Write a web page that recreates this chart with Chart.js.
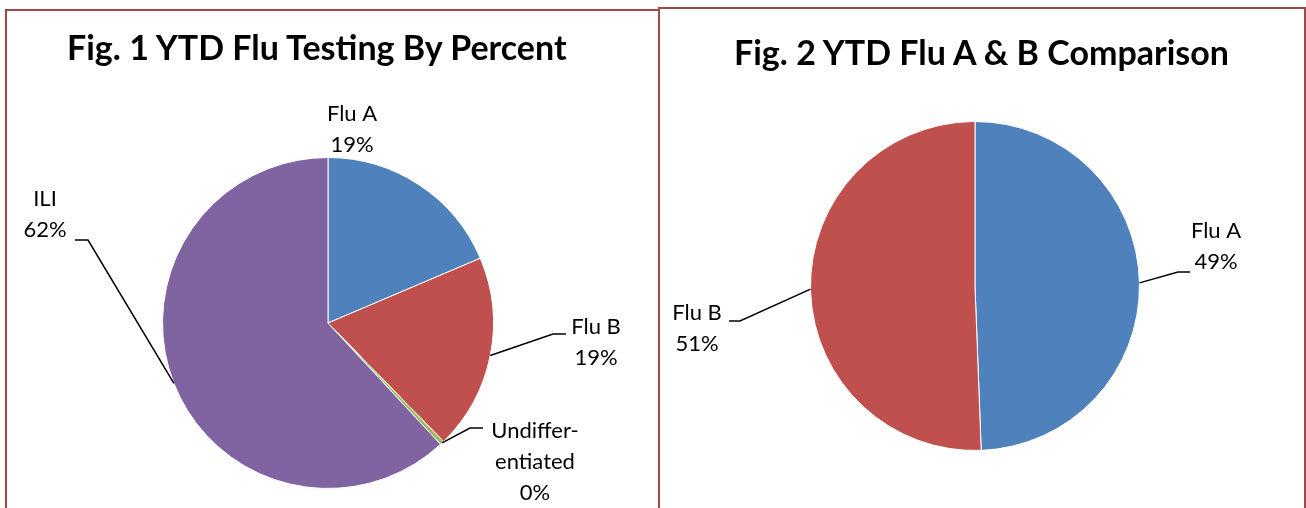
<!DOCTYPE html>
<html>
<head>
<meta charset="utf-8">
<script src="https://cdn.jsdelivr.net/npm/chart.js@4"></script>
<style>
  html, body { margin: 0; padding: 0; background: #fff; }
  body { width: 1306px; height: 508px; position: relative; overflow: hidden; font-family: Lato, sans-serif; }
  .panel { position: absolute; box-sizing: border-box; border: 2px solid #a04846; background: #fff; overflow: hidden; }
  #p1 { left: 5px; top: 9px; width: 655px; height: 520px; }
  #p2 { left: 658px; top: 7px; width: 648px; height: 520px; }
  .panel canvas { position: absolute; left: -2px; top: -2px; }
  .title { position: absolute; font: bold 34px Lato, sans-serif; color: #000; white-space: nowrap; }
  #t1 { left: 60px; top: 15px; }
  #t2 { left: 74px; top: 22px; }
</style>
</head>
<body>
<div class="panel" id="p1">
  <canvas id="fig1" width="653" height="499"></canvas>
  <div class="title" id="t1">Fig. 1 YTD Flu Testing By Percent</div>
</div>
<div class="panel" id="p2">
  <canvas id="fig2" width="647" height="501"></canvas>
  <div class="title" id="t2">Fig. 2 YTD Flu A &amp; B Comparison</div>
</div>
<script>
// Fig. 1 - YTD flu testing, share of tests
const fig1Categories = ['Flu A', 'Flu B', 'Undifferentiated', 'ILI'];
const fig1LabelLines = [['Flu A'], ['Flu B'], ['Undiffer-', 'entiated'], ['ILI']];
const fig1Values = [18.6, 19.1, 0.4, 61.9];
const fig1Colors = ['#4f81bd', '#c0504d', '#9bbb59', '#8064a2'];

// Fig. 2 - Flu A vs Flu B
const fig2Categories = ['Flu A', 'Flu B'];
const fig2LabelLines = [['Flu A'], ['Flu B']];
const fig2Values = [49.4, 50.6];
const fig2Colors = ['#4f81bd', '#c0504d'];

// label placement relative to pie centre (px); leader = horizontal stub [x1, x2, y]
const fig1Callouts = [
  { tx: 24, ty: -209, leader: null },
  { tx: 268, ty: 4, leader: [225, 238, 11] },
  { tx: 207, ty: 108, leader: [142, 155, 105] },
  { tx: -283, ty: -124, leader: [-240, -253, -83] }
];
const fig2Callouts = [
  { tx: 241, ty: -55, leader: [203, 215, -14] },
  { tx: -278, ty: 27, leader: [-235, -246, 35] }
];

const calloutPlugin = {
  id: 'callouts',
  afterDatasetsDraw(chart, args, opts) {
    const ctx = chart.ctx;
    const data = chart.data.datasets[0].data;
    const total = data.reduce((a, b) => a + b, 0);
    const arcs = chart.getDatasetMeta(0).data;
    ctx.save();
    ctx.font = '22px Lato, sans-serif';
    ctx.fillStyle = '#000';
    ctx.strokeStyle = '#000';
    ctx.lineWidth = 1.5;
    ctx.textAlign = 'center';
    ctx.textBaseline = 'middle';
    opts.items.forEach((it, i) => {
      const arc = arcs[i];
      const p = arc.getProps(['x', 'y', 'outerRadius', 'startAngle', 'endAngle'], true);
      const mid = (p.startAngle + p.endAngle) / 2;
      if (it.leader) {
        const ex = p.x + Math.cos(mid) * p.outerRadius;
        const ey = p.y + Math.sin(mid) * p.outerRadius;
        ctx.beginPath();
        ctx.moveTo(ex, ey);
        ctx.lineTo(p.x + it.leader[0], p.y + it.leader[2]);
        ctx.lineTo(p.x + it.leader[1], p.y + it.leader[2]);
        ctx.stroke();
      }
      const lines = opts.lines[i].concat([Math.round(data[i] / total * 100) + '%']);
      lines.forEach((t, k) => {
        ctx.fillText(t, p.x + it.tx, p.y + it.ty + k * 31);
      });
    });
    ctx.restore();
  }
};

function makePie(id, labels, values, colors, padding, callouts, lines) {
  new Chart(document.getElementById(id).getContext('2d'), {
    type: 'pie',
    data: {
      labels: labels,
      datasets: [{
        data: values,
        backgroundColor: colors,
        borderColor: '#ffffff',
        borderWidth: 1,
        hoverOffset: 0
      }]
    },
    options: {
      responsive: false,
      animation: false,
      layout: { padding: padding },
      plugins: {
        legend: { display: false },
        tooltip: { enabled: false },
        callouts: { items: callouts, lines: lines }
      }
    },
    plugins: [calloutPlugin]
  });
}

makePie('fig1', fig1Categories, fig1Values, fig1Colors,
  { left: 157, top: 148, right: 164, bottom: 19 }, fig1Callouts, fig1LabelLines);
makePie('fig2', fig2Categories, fig2Values, fig2Colors,
  { left: 152, top: 114, right: 165, bottom: 57 }, fig2Callouts, fig2LabelLines);
</script>
</body>
</html>
